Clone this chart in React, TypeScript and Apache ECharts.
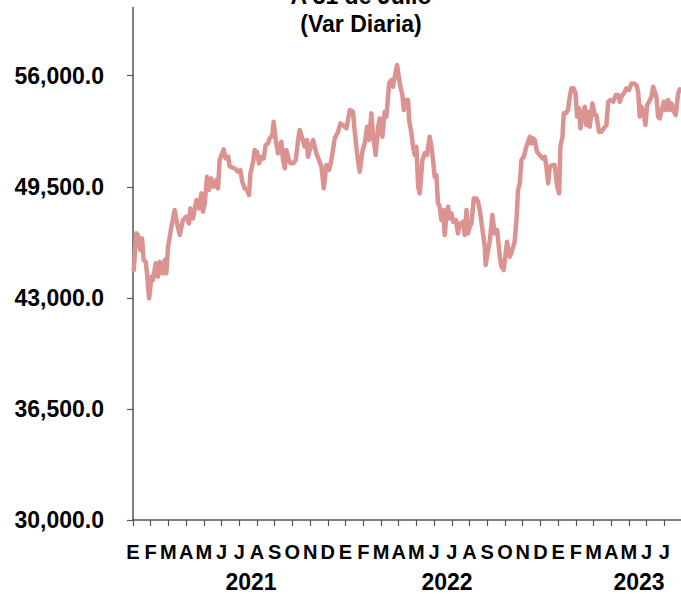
import React, { useEffect, useRef } from "react";
import * as echarts from "echarts";

const titleLines = ["A 31 de Julio", "(Var Diaria)"];
const monthLetters = ["E", "F", "M", "A", "M", "J", "J", "A", "S", "O", "N", "D"];
const yearLabels = ["2021", "2022", "2023"];
const yTickValues = [30000, 36500, 43000, 49500, 56000];

// x: months elapsed since 1 Jan 2021
const monthPos = [
  0.04, 0.19, 0.28, 0.42, 0.51, 0.6, 0.72, 0.79, 0.91, 1.04, 1.13, 1.28, 1.41, 1.51, 1.66, 1.79, 1.88, 1.98,
  2.17, 2.35, 2.49, 2.64, 2.82, 3.01, 3.16, 3.24, 3.39, 3.58, 3.73, 3.86, 3.95, 4.05, 4.18, 4.29, 4.42, 4.56,
  4.71, 4.8, 4.89, 5.12, 5.23, 5.37, 5.46, 5.74, 5.93, 6.06, 6.17, 6.31, 6.44, 6.55, 6.63, 6.78, 6.87, 7.0,
  7.12, 7.25, 7.38, 7.49, 7.62, 7.72, 7.87, 7.94, 8.06, 8.19, 8.38, 8.47, 8.57, 8.66, 8.81, 8.89, 9.04, 9.19,
  9.32, 9.41, 9.56, 9.69, 9.83, 9.88, 10.01, 10.17, 10.35, 10.5, 10.64, 10.77, 10.92, 11.07, 11.2, 11.39,
  11.58, 11.71, 11.86, 12.05, 12.24, 12.42, 12.52, 12.65, 12.8, 12.95, 13.08, 13.22, 13.33, 13.46, 13.55,
  13.7, 13.84, 13.93, 14.08, 14.21, 14.31, 14.46, 14.59, 14.68, 14.78, 14.91, 15.06, 15.21, 15.29, 15.4,
  15.47, 15.53, 15.59, 15.72, 15.81, 15.91, 16.0, 16.1, 16.19, 16.34, 16.47, 16.6, 16.75, 16.85, 16.94,
  17.03, 17.13, 17.22, 17.32, 17.41, 17.51, 17.6, 17.7, 17.79, 17.88, 17.98, 18.07, 18.22, 18.35, 18.45,
  18.54, 18.64, 18.73, 18.83, 18.92, 19.01, 19.11, 19.24, 19.39, 19.48, 19.58, 19.73, 19.86, 19.91, 20.05,
  20.14, 20.29, 20.42, 20.56, 20.71, 20.8, 20.93, 21.04, 21.12, 21.27, 21.36, 21.55, 21.65, 21.74, 21.84,
  21.93, 22.06, 22.21, 22.31, 22.4, 22.49, 22.59, 22.68, 22.81, 22.96, 23.12, 23.25, 23.34, 23.44, 23.53,
  23.68, 23.81, 23.95, 24.06, 24.13, 24.25, 24.32, 24.43, 24.56, 24.66, 24.75, 24.88, 24.99, 25.07, 25.19,
  25.26, 25.37, 25.51, 25.6, 25.7, 25.79, 25.94, 26.07, 26.16, 26.31, 26.45, 26.58, 26.73, 26.83, 26.96,
  27.11, 27.26, 27.39, 27.48, 27.58, 27.76, 27.85, 28.01, 28.14, 28.27, 28.42, 28.52, 28.61, 28.71, 28.84,
  28.93, 29.03, 29.14, 29.27, 29.37, 29.46, 29.55, 29.65, 29.74, 29.83, 29.97, 30.08, 30.21, 30.31, 30.4,
  30.49, 30.64, 30.78, 30.87,
];

const ipcValues = [
  44630, 46775, 46678, 45800, 46483, 45215, 45117, 44434, 42971, 44239, 44044, 45020, 44239, 45117, 44434, 45215, 44434, 45995,
  47165, 48141, 47360, 46678, 47556, 47751, 47360, 48238, 47653, 48726, 48238, 49116, 48043, 48531, 50091, 49311, 49994, 49506,
  49896, 49409, 51067, 51691, 51164, 51262, 50677, 50579, 50384, 50481, 49799, 49409, 49311, 49018, 50286, 50969, 51652, 51554,
  50872, 51262, 51164, 51945, 52042, 52335, 52530, 53310, 52237, 51457, 52140, 51067, 50579, 51652, 51067, 50872, 50872, 51067,
  52237, 52823, 52335, 51847, 52237, 51262, 51750, 52237, 51457, 51067, 50677, 49409, 50774, 50481, 51067, 52335,
  52725, 53213, 53115, 52920, 53993, 53895, 52725, 51457, 50384, 51554, 52042, 53018, 52237, 53798, 52530,
  51359, 53018, 53505, 52432, 53895, 53603, 55553, 55749, 55358, 55944, 56626, 55553, 54870, 53993, 54578,
  54481, 54578, 53408, 52627, 51847, 51359, 51847, 49506, 49116, 51067, 51457, 51359, 52432, 51847, 51067,
  50091, 50189, 48531, 48336, 47556, 48141, 46678, 47946, 48336, 47653, 47946, 47458, 47556, 46775, 47360,
  47263, 47458, 46678, 48141, 46775, 47165, 47360, 48823, 48823, 48628, 48141, 46970, 45995, 44922, 45800,
  46288, 47848, 46775, 46970, 45410, 44825, 44630, 45605, 46288, 45410, 45605, 46288, 47556, 49311, 49701,
  51067, 51262, 51847, 52140, 52432, 52042, 52335, 52237, 51554, 51359, 51164, 51262, 50677, 49701, 50677,
  50774, 50774, 49506, 49116, 51847, 52432, 53798, 53798, 53993, 54773, 55261, 55261, 54968, 53603, 54090,
  52920, 53603, 54188, 53115, 53895, 53018, 54383, 53700, 53700, 52725, 52725, 52920, 53115, 54481, 54578,
  54481, 54871, 54871, 54481, 54773, 55066, 55261, 55163, 55553, 55553, 55456, 55066, 53603, 54188, 53798,
  53115, 54286, 54481, 54773, 55358, 55066, 54773, 53603, 53505, 53895, 54481, 53993, 54578, 53993, 54383,
  53993, 53700, 54968, 55202,
];

const FONT = "'Liberation Sans', Arial, Helvetica, sans-serif";

export default function App() {
  const ref = useRef<HTMLDivElement>(null);
  useEffect(() => {
    if (!ref.current) return;
    const chart = echarts.init(ref.current, null, { renderer: "svg" });
    const data = monthPos.map((m, i) => [m, ipcValues[i]]);
    const fmt = (v: number) =>
      v.toLocaleString("en-US", { minimumFractionDigits: 1, maximumFractionDigits: 1 });
    const yearText = (text: string, x: number) => ({
      type: "text",
      x,
      y: 582,
      style: { text, align: "center", verticalAlign: "middle", fill: "#000", font: `bold 23px ${FONT}` },
    });
    chart.setOption({
      animation: false,
      backgroundColor: "#ffffff",
      grid: { left: 133, right: 0, top: 7.4, bottom: 74, containLabel: false },
      xAxis: {
        type: "value",
        min: 0,
        max: 30.94,
        interval: 1,
        axisLine: { show: true, onZero: false, lineStyle: { color: "#555", width: 1.5 } },
        axisTick: { show: true, length: 6, lineStyle: { color: "#555", width: 1.2 } },
        splitLine: { show: false },
        axisLabel: {
          show: true,
          margin: 22,
          showMaxLabel: false,
          color: "#000",
          fontFamily: FONT,
          fontWeight: "bold",
          fontSize: 20,
          formatter: (v: number) =>
            Math.abs(v - Math.round(v)) < 1e-6 ? monthLetters[Math.round(v) % 12] : "",
        },
      },
      yAxis: {
        type: "value",
        min: 30000,
        max: 60000,
        axisLine: { show: true, lineStyle: { color: "#555", width: 1.5 } },
        axisTick: { show: true, length: 6, customValues: yTickValues, lineStyle: { color: "#555", width: 1.2 } },
        splitLine: { show: false },
        axisLabel: {
          customValues: yTickValues,
          margin: 29,
          color: "#000",
          fontFamily: FONT,
          fontWeight: "bold",
          fontSize: 23,
          formatter: (v: number) => fmt(v),
        },
      },
      graphic: [
        {
          type: "text",
          x: 361,
          y: -4,
          style: { text: titleLines[0], align: "center", verticalAlign: "middle", fill: "#000", font: `bold 23px ${FONT}` },
        },
        {
          type: "text",
          x: 361,
          y: 23.5,
          style: { text: titleLines[1], align: "center", verticalAlign: "middle", fill: "#000", font: `bold 23px ${FONT}` },
        },
        yearText(yearLabels[0], 251),
        yearText(yearLabels[1], 447),
        yearText(yearLabels[2], 639),
      ],
      series: [
        {
          type: "line",
          data,
          showSymbol: false,
          symbol: "none",
          lineStyle: { color: "#db9391", width: 4.5, join: "round", cap: "round" },
          clip: false,
        },
      ],
    });
    return () => chart.dispose();
  }, []);
  return <div ref={ref} style={{ position: "absolute", left: 0, top: 0, width: 681, height: 594 }} />;
}
